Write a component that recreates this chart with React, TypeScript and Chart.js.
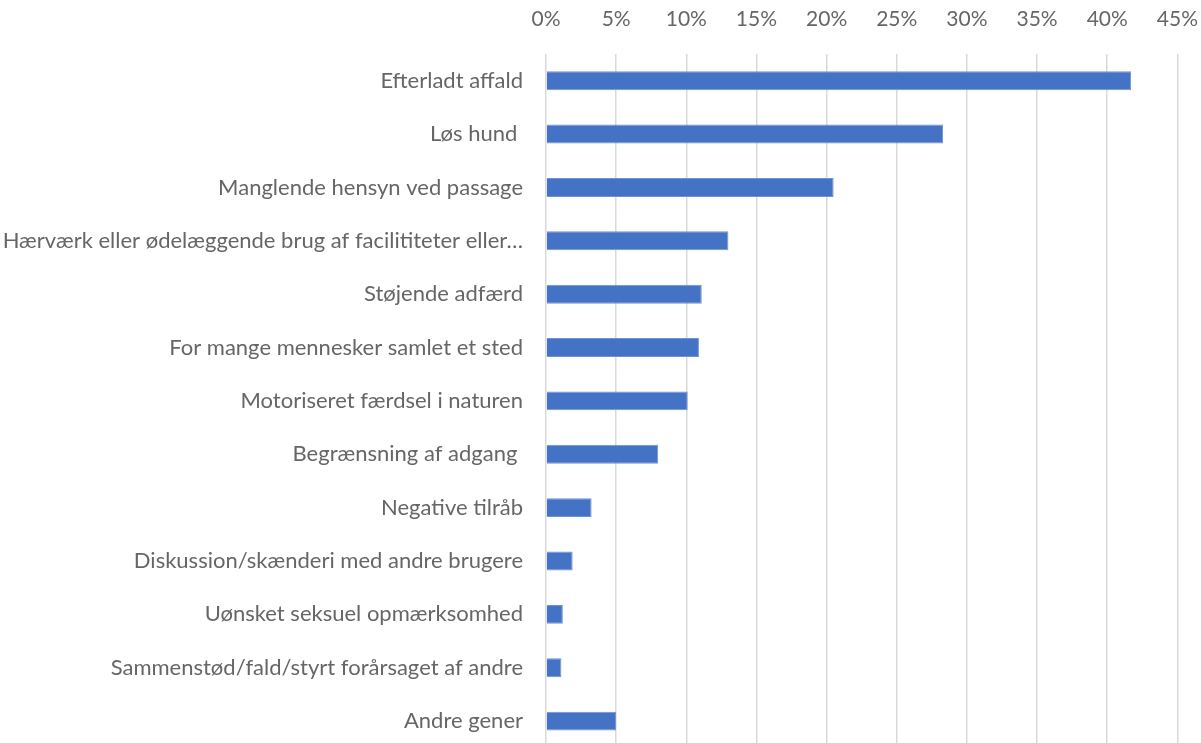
import React, { useEffect, useRef } from "react";
import { Chart, registerables } from "chart.js";

Chart.register(...registerables);

const categories = [
  "Efterladt affald",
  "Løs hund ",
  "Manglende hensyn ved passage",
  "Hærværk eller ødelæggende brug af facilititeter eller…",
  "Støjende adfærd",
  "For mange mennesker samlet et sted",
  "Motoriseret færdsel i naturen",
  "Begrænsning af adgang ",
  "Negative tilråb",
  "Diskussion/skænderi med andre brugere",
  "Uønsket seksuel opmærksomhed",
  "Sammenstød/fald/styrt forårsaget af andre",
  "Andre gener",
];

const values = [41.7, 28.3, 20.5, 13.0, 11.1, 10.9, 10.1, 8.0, 3.25, 1.9, 1.2, 1.1, 5.0];

const FONT = "Lato, 'Open Sans', sans-serif";

export default function App() {
  const ref = useRef<HTMLCanvasElement | null>(null);
  useEffect(() => {
    if (!ref.current) return;
    const chart = new Chart(ref.current, {
      type: "bar",
      data: {
        labels: categories,
        datasets: [
          {
            data: values,
            backgroundColor: "#4472C4",
            borderColor: "#6f93d4",
            borderWidth: 1,
            barPercentage: 0.355,
            categoryPercentage: 1,
          },
        ],
      },
      options: {
        indexAxis: "y",
        responsive: false,
        animation: false,
        layout: { padding: { left: 0, right: 0, top: 0, bottom: 0 } },
        plugins: { legend: { display: false }, tooltip: { enabled: false } },
        scales: {
          x: {
            position: "top",
            min: 0,
            max: 45,
            ticks: {
              stepSize: 5,
              callback: (v: any) => v + "%",
              color: "#666666",
              font: { family: FONT, size: 21 },
              padding: 22,
              maxRotation: 0,
            },
            grid: { color: "#d9d9d9", lineWidth: 1.5, drawTicks: false },
            border: { display: false },
            afterFit: (s: any) => {
              s.height = 54;
            },
          },
          y: {
            ticks: {
              color: "#666666",
              font: { family: FONT, size: 22 },
              padding: 23,
              autoSkip: false,
            },
            grid: { display: false, drawTicks: false },
            border: { display: false },
            afterFit: (s: any) => {
              s.width = 546;
            },
          },
        },
      },
    });
    return () => chart.destroy();
  }, []);
  return (
    <div style={{ position: "fixed", left: 0, top: 0, width: 1201, height: 743, overflow: "hidden", background: "#fff" }}>
      <canvas ref={ref} width={1220} height={784} style={{ display: "block" }} />
    </div>
  );
}
